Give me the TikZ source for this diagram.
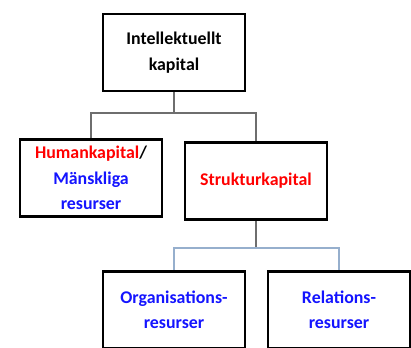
\documentclass[tikz,border=0pt]{standalone}
\usepackage{fontspec}
\setmainfont{Carlito}
\definecolor{redtxt}{RGB}{255,0,0}
\definecolor{bluetxt}{RGB}{20,20,255}
\definecolor{lineA}{RGB}{110,110,110}
\definecolor{lineB}{RGB}{150,175,205}
\begin{document}
\begin{tikzpicture}[x=0.75pt,y=-0.75pt,
  box/.style={draw=black,line width=2.2pt,minimum width=142*0.75pt,minimum height=77*0.75pt,
    inner sep=0pt,align=center,font=\fontsize{13.4}{19}\selectfont\bfseries},
  conA/.style={draw=lineA,line width=0.9pt},
  conB/.style={draw=lineB,line width=0.9pt}]
\useasboundingbox (0,0) rectangle (411,347);
\node[box] (ic) at (174,52.5) {Intellektuellt\\kapital};
\node[box] (hk) at (91,178) {\textcolor{redtxt}{Humankapital}/\\\textcolor{bluetxt}{Mänskliga}\\\textcolor{bluetxt}{resurser}};
\node[box] (sk) at (256,181) {\textcolor{redtxt}{Strukturkapital}};
\node[box] (or) at (174,310) {\textcolor{bluetxt}{Organisations-}\\\textcolor{bluetxt}{resurser}};
\node[box] (re) at (339,310) {\textcolor{bluetxt}{Relations-}\\\textcolor{bluetxt}{resurser}};
\coordinate (j1) at (174,113);
\coordinate (j2) at (256,248);
\draw[conA] (ic.south) -- (j1);
\draw[conA] (j1) -| (hk.north);
\draw[conA] (j1) -| (sk.north);
\draw[conA] (sk.south) -- (j2);
\draw[conB] (j2) -| (or.north);
\draw[conB] (j2) -| (re.north);
\end{tikzpicture}
\end{document}
